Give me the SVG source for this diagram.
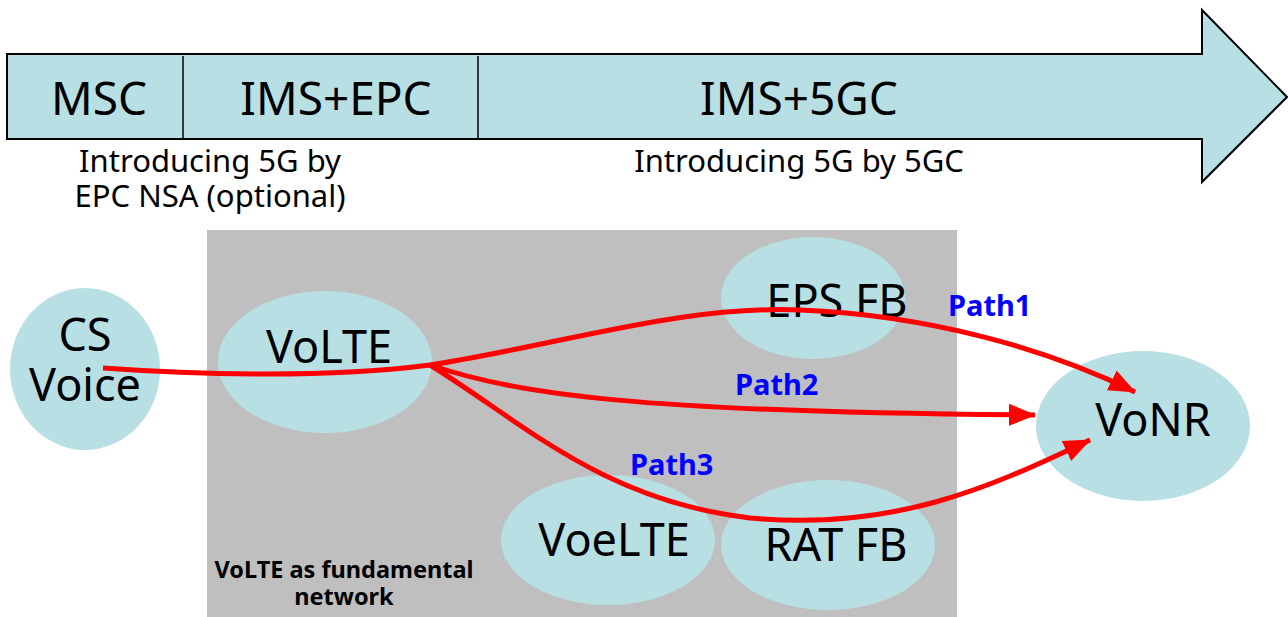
<svg xmlns="http://www.w3.org/2000/svg" width="1288" height="617" viewBox="0 0 1288 617">
<style>
.node{fill:#b8dfe3;}
.lbl{font-family:"Noto Sans","Open Sans",sans-serif;fill:#000;text-anchor:middle;}
.big{font-size:46px;}
.nd{font-size:45px;}
.sub{font-size:31px;}
.path{font-family:"Noto Sans","Open Sans",sans-serif;font-weight:bold;font-size:29px;fill:#0000ff;}
.note{font-family:"Noto Sans","Open Sans",sans-serif;font-weight:bold;font-size:23.5px;fill:#000;text-anchor:middle;}
.conn{fill:none;stroke:#ff0000;stroke-width:5;}
</style>
<defs>
<marker id="ah" markerUnits="userSpaceOnUse" markerWidth="28" markerHeight="24" refX="26" refY="12" orient="auto">
<path d="M0,1 L27,12 L0,23 Z" fill="#ff0000"/>
</marker>
</defs>
<rect width="1288" height="617" fill="#ffffff"/>
<g id="timeline">
<polygon points="7,54 1202,54 1202,10 1287,97 1202,182 1202,139 7,139" fill="#b8dfe3" stroke="#000" stroke-width="2"/>
<line x1="183" y1="56" x2="183" y2="140" stroke="#000" stroke-width="1.5"/>
<line x1="478" y1="56" x2="478" y2="140" stroke="#000" stroke-width="1.5"/>
<text class="lbl big" x="99" y="115">MSC</text>
<text class="lbl big" x="336" y="115">IMS+EPC</text>
<text class="lbl big" x="799" y="115">IMS+5GC</text>
<text class="lbl sub" x="210" y="172">Introducing 5G by<tspan x="210" y="207">EPC NSA (optional)</tspan></text>
<text class="lbl sub" x="799" y="172">Introducing 5G by 5GC</text>
</g>
<g id="volte-area">
<rect x="207" y="230" width="750" height="387" fill="#bfbfbf"/>
<text class="note" x="344" y="578">VoLTE as fundamental<tspan x="344" y="605">network</tspan></text>
</g>
<g id="cs-voice"><ellipse class="node" cx="85" cy="369" rx="75" ry="81"/><text class="lbl nd" x="85" y="351">CS<tspan x="85" y="401">Voice</tspan></text></g>
<g id="volte"><ellipse class="node" cx="325" cy="362" rx="107" ry="71"/><text class="lbl nd" x="329" y="363">VoLTE</text></g>
<g id="eps-fb"><ellipse class="node" cx="813" cy="298" rx="92" ry="61"/><text class="lbl nd" x="837" y="317">EPS FB</text></g>
<g id="vonr"><ellipse class="node" cx="1143" cy="426" rx="107" ry="75"/><text class="lbl nd" x="1153" y="436">VoNR</text></g>
<g id="voelte"><ellipse class="node" cx="608" cy="540" rx="107" ry="65"/><text class="lbl nd" x="614" y="556">VoeLTE</text></g>
<g id="rat-fb"><ellipse class="node" cx="828" cy="545" rx="107" ry="65"/><text class="lbl nd" x="836" y="561">RAT FB</text></g>
<g id="connectors">
<path class="conn" d="M103,368 C200,375 330,378 430,365"/>
<path class="conn" marker-end="url(#ah)" d="M430,365 C560,345 680,305 800,310 C930,315 1050,350 1135,392"/>
<path class="conn" marker-end="url(#ah)" d="M430,365 C520,395 640,412 1035,415"/>
<path class="conn" marker-end="url(#ah)" d="M430,365 C520,420 600,500 750,518 C900,532 1000,482 1090,440"/>
<text class="path" x="948" y="316">Path1</text>
<text class="path" x="735" y="395">Path2</text>
<text class="path" x="630" y="475">Path3</text>
</g>
</svg>
